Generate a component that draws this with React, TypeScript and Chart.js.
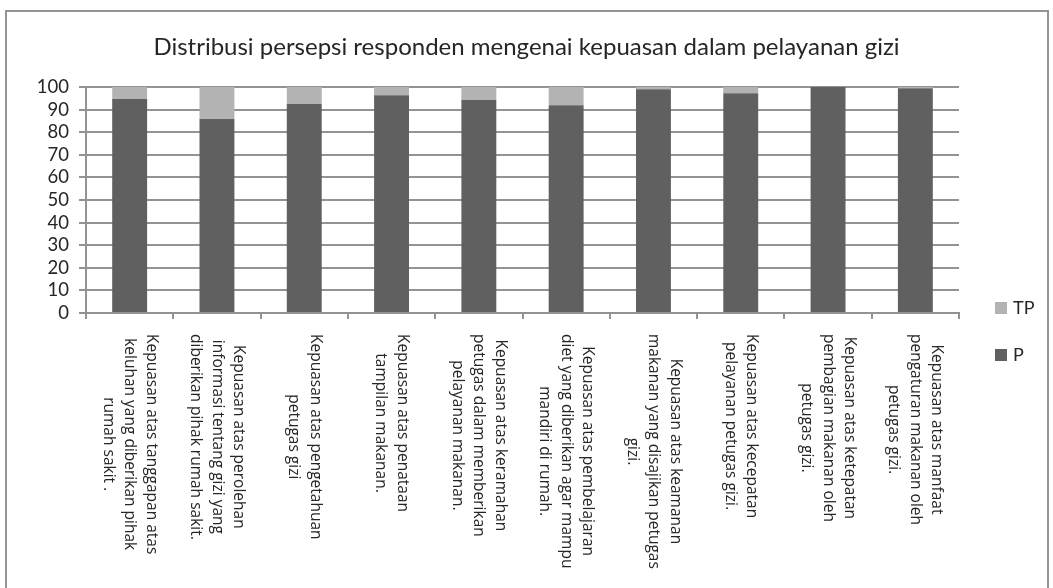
import React, { useEffect, useRef } from "react";
import { Chart, registerables } from "chart.js";

Chart.register(...registerables);

const TITLE = "Distribusi persepsi responden mengenai kepuasan dalam pelayanan gizi";

const categories: string[][] = [
  ["Kepuasan atas tanggapan atas", "keluhan yang diberikan pihak", "rumah sakit ."],
  ["Kepuasan atas perolehan", "informasi tentang gizi yang", "diberikan pihak rumah sakit."],
  ["Kepuasan atas pengetahuan", "petugas gizi"],
  ["Kepuasan atas penataan", "tampilan makanan."],
  ["Kepuasan atas keramahan", "petugas dalam memberikan", "pelayanan makanan."],
  ["Kepuasan atas pembelajaran", "diet yang diberikan agar mampu", "mandiri di rumah."],
  ["Kepuasan atas keamanan", "makanan yang disajikan petugas", "gizi."],
  ["Kepuasan atas kecepatan", "pelayanan petugas gizi."],
  ["Kepuasan atas ketepatan", "pembagian makanan oleh", "petugas gizi."],
  ["Kepuasan atas manfaat", "pengaturan makanan oleh", "petugas gizi."],
];

const seriesNames = ["P", "TP"];
const pValues = [94.7, 85.8, 92.5, 96.3, 94.2, 91.9, 99.0, 97.2, 100, 99.4];
const tpValues = [5.3, 14.2, 7.5, 3.7, 5.8, 8.1, 1.0, 2.8, 0, 0.6];
const seriesColors = ["#606060", "#b3b3b3"];

const yMin = 0;
const yMax = 100;
const yStep = 10;

const GRID = "#939393";
const TEXT = "#262626";

const rotatedLabels = {
  id: "rotatedLabels",
  afterDraw(chart: any) {
    const ctx = chart.ctx;
    const xs = chart.scales.x;
    const top = 334;
    const lh = 21.5;
    ctx.save();
    ctx.font = "15.5px 'Open Sans'";
    ctx.fillStyle = TEXT;
    ctx.textAlign = "center";
    ctx.textBaseline = "middle";
    categories.forEach((lines, i) => {
      const x = xs.getPixelForValue(i);
      const maxW = Math.max(...lines.map((l) => ctx.measureText(l).width));
      ctx.save();
      ctx.translate(x, top);
      ctx.rotate(Math.PI / 2);
      const n = lines.length;
      lines.forEach((line, k) => {
        ctx.fillText(line, maxW / 2, (k - (n - 1) / 2) * lh);
      });
      ctx.restore();
    });
    ctx.restore();
  },
};

const sideLegend = {
  id: "sideLegend",
  afterDraw(chart: any) {
    const ctx = chart.ctx;
    const ds = chart.data.datasets.slice().reverse();
    const ys = [308, 355];
    ctx.save();
    ctx.font = "18px Lato";
    ctx.textBaseline = "middle";
    ctx.textAlign = "left";
    ds.forEach((d: any, i: number) => {
      const cy = ys[i];
      ctx.fillStyle = d.backgroundColor;
      ctx.fillRect(995, cy - 6, 12, 12);
      ctx.fillStyle = TEXT;
      ctx.fillText(d.label, 1013, cy);
    });
    ctx.restore();
  },
};

export default function App() {
  const ref = useRef<HTMLCanvasElement | null>(null);

  useEffect(() => {
    if (!ref.current) return;
    const chart = new Chart(ref.current, {
      type: "bar",
      data: {
        labels: categories.map((c) => c.join(" ")),
        datasets: [
          {
            label: seriesNames[0],
            data: pValues,
            backgroundColor: seriesColors[0],
            borderWidth: 0,
            barPercentage: 0.4,
            categoryPercentage: 1,
          },
          {
            label: seriesNames[1],
            data: tpValues,
            backgroundColor: seriesColors[1],
            borderWidth: 0,
            barPercentage: 0.4,
            categoryPercentage: 1,
          },
        ],
      },
      options: {
        responsive: false,
        animation: false,
        devicePixelRatio: 1,
        layout: { padding: { left: 0, right: 0, top: 0, bottom: 0 } },
        plugins: {
          legend: { display: false },
          tooltip: { enabled: false },
          title: {
            display: true,
            text: TITLE,
            color: TEXT,
            font: { family: "Lato", size: 24, weight: "normal", lineHeight: 1.2 },
            padding: { top: 33, bottom: 25.2 },
          },
        },
        scales: {
          x: {
            stacked: true,
            offset: true,
            ticks: { display: false },
            grid: {
              offset: true,
              drawOnChartArea: false,
              drawTicks: true,
              tickLength: 6,
              color: GRID,
              lineWidth: 2,
            },
            border: { display: true, color: GRID, width: 2 },
            afterFit: (s: any) => {
              s.height = 275;
            },
          },
          y: {
            stacked: true,
            min: yMin,
            max: yMax,
            ticks: {
              stepSize: yStep,
              autoSkip: false,
              color: TEXT,
              font: { family: "Lato", size: 18.5 },
              padding: 10,
            },
            grid: {
              color: GRID,
              lineWidth: 2,
              drawTicks: true,
              tickLength: 7,
            },
            border: { display: true, color: GRID, width: 2 },
            afterFit: (s: any) => {
              s.width = 86;
            },
          },
          legendSpace: {
            type: "linear",
            position: "right",
            display: true,
            ticks: { display: false },
            grid: { display: false, drawTicks: false },
            border: { display: false },
            afterFit: (s: any) => {
              s.width = 94;
            },
          },
        },
      },
      plugins: [rotatedLabels, sideLegend],
    });
    return () => chart.destroy();
  }, []);

  return (
    <div
      style={{
        position: "fixed",
        left: 0,
        top: 0,
        width: 1053,
        height: 588,
        overflow: "hidden",
        background: "#fff",
      }}
    >
      <canvas
        ref={ref}
        width={1053}
        height={588}
        style={{ position: "absolute", left: 0, top: 0, width: 1053, height: 588 }}
      />
      <div
        style={{
          position: "absolute",
          left: 5,
          top: 10,
          width: 1044,
          height: 640,
          border: "2px solid #959595",
          boxSizing: "border-box",
        }}
      />
    </div>
  );
}
